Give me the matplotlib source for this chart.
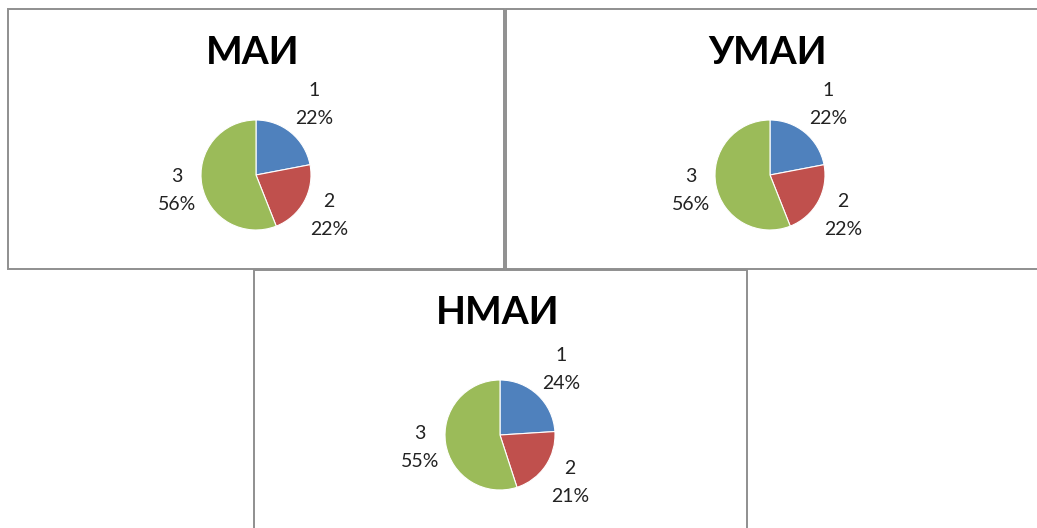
import numpy as np
import matplotlib
matplotlib.use('Agg')
import matplotlib.pyplot as plt
from matplotlib.patches import Rectangle

# data
titles = ['МАИ', 'УМАИ', 'НМАИ']
categories = ['1', '2', '3']
shares_mai = [22, 22, 56]
shares_umai = [22, 22, 56]
shares_nmai = [24, 21, 55]
colors = ['#4F81BD', '#C0504D', '#9BBB59']

W, H = 1037, 528
R = 55  # pie radius in pixels

plt.rcParams['font.family'] = ['Lato', 'DejaVu Sans']

fig = plt.figure(figsize=(W / 100, H / 100), dpi=100)
fig.patch.set_facecolor('white')

# panel frames: (left, top, right, bottom) in pixels
frames = [(8, 9, 504, 269), (506, 9, 1042, 269), (254, 270, 747, 540)]
for l, t, r, b in frames:
    fig.patches.append(Rectangle((l / W, 1 - b / H), (r - l) / W, (b - t) / H,
                                 transform=fig.transFigure, fill=False,
                                 edgecolor='#8f8f8f', linewidth=1.4))

# pie centres and title positions in pixels
centres = [(256, 175), (770, 175), (500, 435)]
title_pos = [(253, 52), (768, 52), (498, 312)]


def draw_pie(share, centre, title, tpos):
    cx, cy = centre
    ax = fig.add_axes([(cx - R) / W, 1 - (cy + R) / H, 2 * R / W, 2 * R / H])
    wedges, _ = ax.pie(share, colors=colors, startangle=90, counterclock=False,
                       wedgeprops=dict(edgecolor='white', linewidth=0.8))
    ax.set_xlim(-1, 1)
    ax.set_ylim(-1, 1)
    ax.axis('off')

    total = sum(share)
    for w, cat, v in zip(wedges, categories, share):
        th = np.deg2rad((w.theta1 + w.theta2) / 2)
        c, s = np.cos(th), np.sin(th)
        # push the text box out so its edge sits just beyond the pie
        hw, hh = 20, 30
        edge = min(hw / max(abs(c), 1e-6), hh / max(abs(s), 1e-6))
        r0 = 1.1
        ax.annotate(f'{cat}\n{round(v / total * 100)}%', xy=(r0 * c, r0 * s),
                    xytext=(edge * c * 0.72, edge * s * 0.72),
                    textcoords='offset points', ha='center', va='center',
                    fontsize=14, linespacing=1.8, color='#222222',
                    annotation_clip=False)

    fig.text(tpos[0] / W, 1 - tpos[1] / H, title, ha='center', va='center',
             fontsize=28, fontweight='bold', color='black')


for share, centre, title, tpos in zip([shares_mai, shares_umai, shares_nmai],
                                      centres, titles, title_pos):
    draw_pie(share, centre, title, tpos)

fig.savefig('out.png', dpi=100, facecolor='white')
